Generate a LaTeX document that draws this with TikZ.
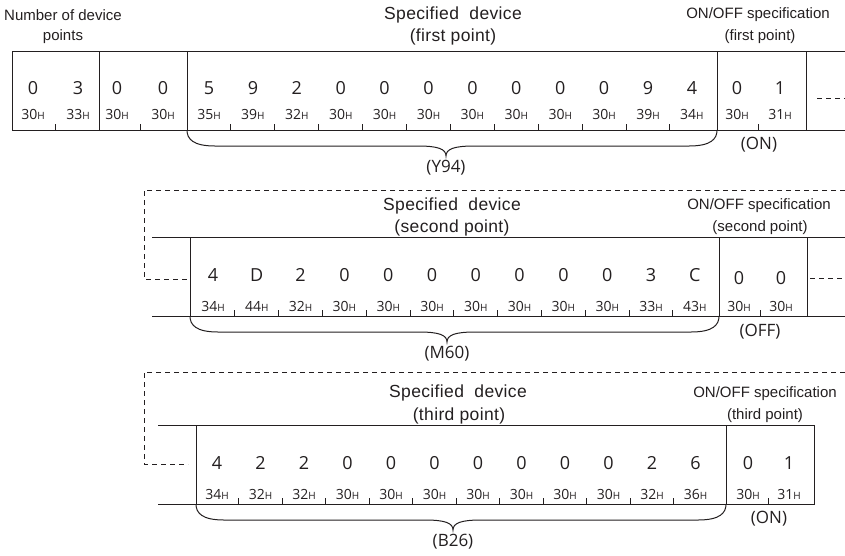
\documentclass[tikz,border=0pt]{standalone}
\usepackage{fontspec}
\setmainfont{Liberation Sans}
\newfontfamily\digitfont{Open Sans}
\newfontfamily\spacedfont[LetterSpace=2]{Liberation Sans}
\definecolor{ink}{HTML}{231F20}
\newcommand\hexlbl[1]{#1{\fontsize{10}{10}\selectfont H}}
\newcommand\mybracepath[5]{%
  \draw[bracestyle] (#1) .. controls ($(#1)+(0,9)$) and ($(#1)+(6,16)$) .. ($(#1)+(28,16)$)
    -- (#3-28,#4+16) .. controls (#3-8,#4+16) and (#3,#4+19) .. (#3,#4+26)
    .. controls (#3,#4+19) and (#3+8,#4+16) .. (#3+28,#4+16)
    -- ($(#2)+(-28,16)$) .. controls ($(#2)+(-6,16)$) and ($(#2)+(0,9)$) .. (#2);
  \node[paren] (#5) at (#3,#4+38) {(#5)};}
\begin{document}
\begin{tikzpicture}[x=1pt,y=-1pt,line width=1pt,
  every node/.style={text=ink,inner sep=0pt},
  lbl/.style={font=\fontsize{15}{15}\selectfont},
  big/.style={font=\spacedfont\fontsize{17.5}{17.5}\selectfont},
  paren/.style={font=\digitfont\fontsize{17}{17}\selectfont},
  dig/.style={font=\digitfont\fontsize{18}{18}\selectfont,anchor=base},
  hex/.style={font=\digitfont\fontsize{14}{14}\selectfont,anchor=base},
  boxline/.style={draw=ink,line width=1pt},
  dashline/.style={draw=ink,line width=1pt,dash pattern=on 5pt off 4pt},
  tickline/.style={draw=ink,line width=0.9pt},
  bracestyle/.style={draw=ink,line width=1pt}]
\usetikzlibrary{calc}
\useasboundingbox (0,0) rectangle (845,555);

% ---------------- Row 1 ----------------
\node[lbl] (nd1) at (63,15) {Number of device};
\node[lbl] (nd2) at (63,37) {points};
\node[big] (sd1) at (453,15) {Specified\ \ device};
\node[big] (sd1b) at (453,37) {(first point)};
\node[lbl] (oo1) at (758,15) {ON/OFF specification};
\node[lbl] (oo1b) at (760,37) {(first point)};

\coordinate (r1tl) at (12,51);  \coordinate (r1tr) at (845,51);
\coordinate (r1bl) at (12,130); \coordinate (r1br) at (845,130);
\draw[boxline] (r1tr) -- (r1tl) -- (r1bl) -- (r1br);
\foreach \x/\n in {99/a,187/b,717/c,806/d}{
  \coordinate (r1v\n t) at (\x,51); \coordinate (r1v\n b) at (\x,130);
  \draw[boxline] (r1v\n t) -- (r1v\n b);}
\coordinate (r1ds) at (817,98); \coordinate (r1de) at (845,98);
\draw[dashline] (r1ds) -- (r1de);

\foreach \x/\d/\h [count=\i] in {33/0/30,78/3/33,117/0/30,163/0/30,737/0/30,780/1/31}{
  \node[dig] (r1p\i) at (\x,94) {\d};
  \node[hex] (r1q\i) at (\x,119) {\hexlbl{\h}};}
\foreach \x in {55.5,140,758.5}{
  \coordinate (t1a) at (\x,124); \coordinate (t1b) at (\x,130);
  \draw[tickline] (t1a) -- (t1b);}
\foreach \d/\h [count=\i from 0] in {5/35,9/39,2/32,0/30,0/30,0/30,0/30,0/30,0/30,0/30,9/39,4/34}{
  \pgfmathsetmacro\xx{209+43.9*\i}
  \node[dig] (r1s\i) at (\xx,94) {\d};
  \node[hex] (r1h\i) at (\xx,119) {\hexlbl{\h}};
  \ifnum\i>0
    \coordinate (t1c) at (\xx-22,124); \coordinate (t1d) at (\xx-22,130);
    \draw[tickline] (t1c) -- (t1d);
  \fi}
\node[paren] (on1) at (759,145) {(ON)};
\mybracepath{r1vbb}{r1vcb}{446}{130}{Y94}

% ---------------- Row 2 ----------------
\coordinate (r2d1) at (845,190); \coordinate (r2d2) at (144,190);
\coordinate (r2d3) at (144,279); \coordinate (r2d4) at (187,279);
\draw[dashline] (r2d1) -- (r2d2) -- (r2d3) -- (r2d4);
\node[big] (sd2) at (452,206) {Specified\ \ device};
\node[big] (sd2b) at (452,228) {(second point)};
\node[lbl] (oo2) at (759,206) {ON/OFF specification};
\node[lbl] (oo2b) at (760,228) {(second point)};

\coordinate (r2tl) at (152,237); \coordinate (r2tr) at (845,237);
\coordinate (r2bl) at (152,316); \coordinate (r2br) at (845,316);
\draw[boxline] (r2tl) -- (r2tr);
\draw[boxline] (r2bl) -- (r2br);
\foreach \x/\n in {190/a,719/b,807/c}{
  \coordinate (r2v\n t) at (\x,237); \coordinate (r2v\n b) at (\x,316);
  \draw[boxline] (r2v\n t) -- (r2v\n b);}
\coordinate (r2ds) at (810,278); \coordinate (r2de) at (845,278);
\draw[dashline] (r2ds) -- (r2de);

\foreach \d/\h [count=\i from 0] in {4/34,D/44,2/32,0/30,0/30,0/30,0/30,0/30,0/30,0/30,3/33,C/43}{
  \pgfmathsetmacro\xx{213+43.8*\i}
  \node[dig] (r2s\i) at (\xx,281) {\d};
  \node[hex] (r2h\i) at (\xx,311) {\hexlbl{\h}};
  \ifnum\i>0
    \coordinate (t2c) at (\xx-22,310); \coordinate (t2d) at (\xx-22,316);
    \draw[tickline] (t2c) -- (t2d);
  \fi}
\foreach \x/\d/\h [count=\i] in {739/0/30,781/0/30}{
  \node[dig] (r2p\i) at (\x,284) {\d};
  \node[hex] (r2q\i) at (\x,311) {\hexlbl{\h}};}
\coordinate (t2e) at (760,310); \coordinate (t2f) at (760,316);
\draw[tickline] (t2e) -- (t2f);
\node[paren] (off2) at (760,332) {(OFF)};
\mybracepath{r2vab}{r2vbb}{447}{316}{M60}

% ---------------- Row 3 ----------------
\coordinate (r3d1) at (845,372); \coordinate (r3d2) at (144,372);
\coordinate (r3d3) at (144,464); \coordinate (r3d4) at (188,464);
\draw[dashline] (r3d1) -- (r3d2) -- (r3d3) -- (r3d4);
\node[big] (sd3) at (458,393) {Specified\ \ device};
\node[big] (sd3b) at (459,416) {(third point)};
\node[lbl] (oo3) at (765,394) {ON/OFF specification};
\node[lbl] (oo3b) at (765,416) {(third point)};

\coordinate (r3tl) at (158,425); \coordinate (r3tr) at (814,425);
\coordinate (r3bl) at (158,504); \coordinate (r3br) at (814,504);
\draw[boxline] (r3tl) -- (r3tr) -- (r3br) -- (r3bl);
\foreach \x/\n in {196/a,726/b}{
  \coordinate (r3v\n t) at (\x,425); \coordinate (r3v\n b) at (\x,504);
  \draw[boxline] (r3v\n t) -- (r3v\n b);}

\foreach \d/\h [count=\i from 0] in {4/34,2/32,2/32,0/30,0/30,0/30,0/30,0/30,0/30,0/30,2/32,6/36}{
  \pgfmathsetmacro\xx{217+43.5*\i}
  \node[dig] (r3s\i) at (\xx,469) {\d};
  \node[hex] (r3h\i) at (\xx,499) {\hexlbl{\h}};
  \ifnum\i>0
    \coordinate (t3c) at (\xx-21.75,498); \coordinate (t3d) at (\xx-21.75,504);
    \draw[tickline] (t3c) -- (t3d);
  \fi}
\foreach \x/\d/\h [count=\i] in {748/0/30,789/1/31}{
  \node[dig] (r3p\i) at (\x,469) {\d};
  \node[hex] (r3q\i) at (\x,499) {\hexlbl{\h}};}
\coordinate (t3e) at (768.5,498); \coordinate (t3f) at (768.5,504);
\draw[tickline] (t3e) -- (t3f);
\node[paren] (on3) at (769,519) {(ON)};
\mybracepath{r3vab}{r3vbb}{453}{504}{B26}
\end{tikzpicture}
\end{document}
